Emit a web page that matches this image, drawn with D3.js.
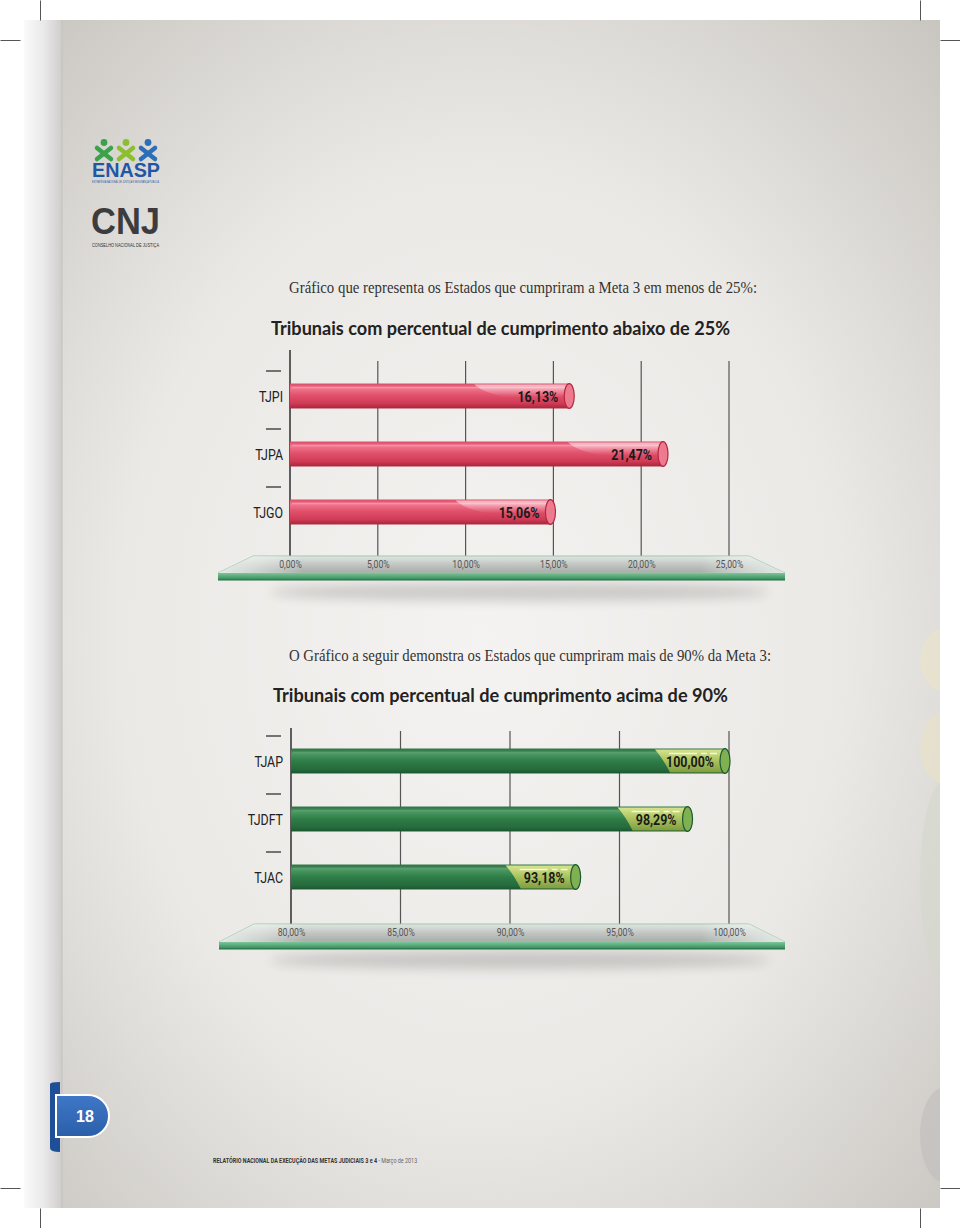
<!DOCTYPE html>
<html><head><meta charset="utf-8">
<script src="https://cdn.jsdelivr.net/npm/d3@7"></script>
<style>body{margin:0;background:#fff}svg{display:block}</style>
</head><body>
<script>
// ---- data ----
const cats1 = ["TJPI", "TJPA", "TJGO"];
const vals1 = [16.13, 21.47, 15.06];
const valLabels1 = ["16,13%", "21,47%", "15,06%"];
const ticks1 = [0, 5, 10, 15, 20, 25];
const tickLabels1 = ["0,00%", "5,00%", "10,00%", "15,00%", "20,00%", "25,00%"];

const cats2 = ["TJAP", "TJDFT", "TJAC"];
const vals2 = [100, 98.29, 93.18];
const valLabels2 = ["100,00%", "98,29%", "93,18%"];
const ticks2 = [80, 85, 90, 95, 100];
const tickLabels2 = ["80,00%", "85,00%", "90,00%", "95,00%", "100,00%"];

const intro1 = "Gráfico que representa os Estados que cumpriram a Meta 3 em menos de 25%:";
const title1 = "Tribunais com percentual de cumprimento abaixo de 25%";
const intro2 = "O Gráfico a seguir demonstra os Estados que cumpriram mais de 90% da Meta 3:";
const title2 = "Tribunais com percentual de cumprimento acima de 90%";
const pageNum = "18";
const footerBold = "RELATÓRIO NACIONAL DA EXECUÇÃO DAS METAS JUDICIAIS 3 e 4";
const footerLight = " - Março de 2013";

const W = 960, H = 1228;
const svg = d3.select("body").append("svg").attr("width", W).attr("height", H);
const defs = svg.append("defs");

function lin(id, stops, x2, y2) {
  const g = defs.append("linearGradient").attr("id", id)
    .attr("x1", 0).attr("y1", 0).attr("x2", x2).attr("y2", y2);
  stops.forEach(s => g.append("stop").attr("offset", s[0]).attr("stop-color", s[1]).attr("stop-opacity", s[2] == null ? 1 : s[2]));
}
const rg = defs.append("radialGradient").attr("id", "pageBg").attr("cx", "50%").attr("cy", "52%").attr("r", "72%");
[[0, "#f4f3f1"], [0.55, "#ebe9e6"], [1, "#c9c6c1"]].forEach(s => rg.append("stop").attr("offset", s[0]).attr("stop-color", s[1]));
lin("spine", [[0, "#fafafa"], [0.5, "#ebeaea"], [1, "#cfcdcc"]], 1, 0);
lin("redGrad", [[0, "#d94862"], [0.18, "#f07890"], [0.45, "#e2526c"], [0.8, "#cf3a55"], [1, "#a8253c"]], 0, 1);
lin("greenGrad", [[0, "#2a7040"], [0.2, "#4a9a62"], [0.5, "#2f7d48"], [0.85, "#256a3b"], [1, "#1a5530"]], 0, 1);
lin("redShine", [[0, "#ffffff", 0.6], [0.5, "#ffffff", 0.25], [1, "#ffffff", 0]], 0, 1);
lin("greenShine", [[0, "#d6e48e"], [0.5, "#a9c25c"], [1, "#7f9d40"]], 0, 1);
lin("shelfTop", [[0, "#dfe6e1"], [0.5, "#c2c6c3"], [1, "#a7aca9"]], 0, 1);
lin("shelfSide", [[0, "#e8efe9", 0.9], [0.15, "#ffffff", 0], [0.85, "#ffffff", 0], [1, "#e6eee8", 0.9]], 1, 0);
lin("shelfFront", [[0, "#7fc49a"], [1, "#2f8a56"]], 0, 1);
lin("tabGrad", [[0, "#3f78c8"], [1, "#2a5ea8"]], 0, 1);
defs.append("filter").attr("id", "blur").attr("x", "-20%").attr("y", "-200%").attr("width", "140%").attr("height", "500%")
  .append("feGaussianBlur").attr("stdDeviation", 6);

// ---- page ----
const page = { x: 24, y: 20, w: 916, h: 1188 };
svg.append("rect").attr("x", page.x).attr("y", page.y).attr("width", page.w).attr("height", page.h).attr("fill", "url(#pageBg)");
svg.append("rect").attr("x", page.x).attr("y", page.y).attr("width", 38).attr("height", page.h).attr("fill", "url(#spine)");
svg.append("line").attr("x1", 62).attr("x2", 62).attr("y1", page.y).attr("y2", page.y + page.h).attr("stroke", "#c4c2bf").attr("stroke-width", 1);

// right edge decorations
const clip = defs.append("clipPath").attr("id", "rclip");
clip.append("rect").attr("x", 920).attr("y", page.y).attr("width", 20).attr("height", page.h);
const dg = svg.append("g").attr("clip-path", "url(#rclip)");
[[660, 32, "#ebe5c8"], [748, 36, "#e8e2c4"], [880, 100, "#d3d7cc"], [1135, 48, "#bfbdbd"]].forEach(d => {
  dg.append("ellipse").attr("cx", 945).attr("cy", d[0]).attr("rx", 25).attr("ry", d[1]).attr("fill", d[2]).attr("opacity", 0.6);
});

// crop marks
const cm = svg.append("g").attr("stroke", "#555").attr("stroke-width", 1);
[[40, 0, 40, 20], [920, 0, 920, 20], [0, 40, 20, 40], [940, 40, 960, 40],
 [40, 1208, 40, 1228], [920, 1208, 920, 1228], [0, 1188, 20, 1188], [940, 1188, 960, 1188]].forEach(l =>
  cm.append("line").attr("x1", l[0] + 0.5).attr("y1", l[1] + 0.5).attr("x2", l[2] + 0.5).attr("y2", l[3] + 0.5));

// ---- logos ----
const logo = svg.append("g");
[["#3aa24a", 104], ["#8cbf2f", 126], ["#2a6fb8", 148]].forEach(f => {
  const g = logo.append("g").attr("stroke", f[0]).attr("stroke-width", 4.5).attr("stroke-linecap", "round").attr("fill", "none");
  g.append("line").attr("x1", f[1] - 7).attr("y1", 148).attr("x2", f[1] + 7).attr("y2", 159);
  g.append("line").attr("x1", f[1] + 7).attr("y1", 148).attr("x2", f[1] - 7).attr("y2", 159);
  logo.append("circle").attr("cx", f[1]).attr("cy", 142.5).attr("r", 3.4).attr("fill", f[0]);
});
logo.append("text").attr("x", 92).attr("y", 177).attr("font-family", "Liberation Sans, Arial, sans-serif")
  .attr("font-weight", 700).attr("font-size", 21).attr("fill", "#1f57a6").attr("textLength", 68).attr("lengthAdjust", "spacingAndGlyphs").text("ENASP");
logo.append("text").attr("x", 92).attr("y", 183).attr("font-family", "Liberation Sans, Arial, sans-serif")
  .attr("font-size", 3.5).attr("fill", "#1f57a6").attr("textLength", 67).attr("lengthAdjust", "spacingAndGlyphs").text("ESTRATÉGIA NACIONAL DE JUSTIÇA E SEGURANÇA PÚBLICA");
logo.append("text").attr("x", 91).attr("y", 234).attr("font-family", "Liberation Sans, Arial, sans-serif")
  .attr("font-weight", 700).attr("font-size", 36).attr("fill", "#3c3c3e").attr("textLength", 69).attr("lengthAdjust", "spacingAndGlyphs").text("CNJ");
logo.append("text").attr("x", 92).attr("y", 247).attr("font-family", "Liberation Sans, Arial, sans-serif")
  .attr("font-size", 4.6).attr("fill", "#333").attr("textLength", 67).attr("lengthAdjust", "spacingAndGlyphs").text("CONSELHO NACIONAL DE JUSTIÇA");

// ---- texts ----
function serifText(t, x, y, w) {
  svg.append("text").attr("x", x).attr("y", y).attr("font-family", "Liberation Serif, DejaVu Serif, serif")
    .attr("font-size", 16.5).attr("fill", "#333").attr("textLength", w).attr("lengthAdjust", "spacingAndGlyphs").text(t);
}
function boldTitle(t, x, y, w) {
  svg.append("text").attr("x", x).attr("y", y).attr("font-family", "Lato, Open Sans, sans-serif")
    .attr("font-weight", 700).attr("font-size", 18).attr("fill", "#222").attr("textLength", w).attr("lengthAdjust", "spacingAndGlyphs").text(t);
}
serifText(intro1, 289, 293, 468);
boldTitle(title1, 271, 335, 459);
serifText(intro2, 289, 661, 482);
boldTitle(title2, 273, 702, 455);

const cond = "Roboto, Liberation Sans, sans-serif";

// ---- chart drawing ----
function drawChart(o) {
  const g = svg.append("g");
  const x = o.x, y = o.y;
  const x0 = x.range()[0], x1 = x.range()[1];
  const shelfTop = o.shelfY;

  g.append("ellipse").attr("cx", (x0 + x1) / 2 + 10).attr("cy", shelfTop + 36).attr("rx", 250).attr("ry", 9)
    .attr("fill", "#000").attr("opacity", 0.16).attr("filter", "url(#blur)");

  g.selectAll(".grid").data(o.ticks.slice(1)).join("line")
    .attr("x1", d => x(d)).attr("x2", d => x(d))
    .attr("y1", o.gridTop).attr("y2", shelfTop)
    .attr("stroke", "#555").attr("stroke-width", 1.2);
  g.append("line").attr("x1", x0).attr("x2", x0).attr("y1", o.axisTop).attr("y2", shelfTop)
    .attr("stroke", "#222").attr("stroke-width", 1.4);

  const step = y.step(), bw = y.bandwidth();
  g.selectAll(".dash").data(o.cats).join("line")
    .attr("x1", 266).attr("x2", 281)
    .attr("y1", d => y(d) - (step - bw) / 2 + 4).attr("y2", d => y(d) - (step - bw) / 2 + 4)
    .attr("stroke", "#222").attr("stroke-width", 1.2);
  g.selectAll(".cat").data(o.cats).join("text")
    .attr("transform", d => `translate(283,${y(d) + bw / 2 + 5.5}) scale(0.8,1)`)
    .attr("text-anchor", "end").attr("font-family", cond).attr("font-size", 15.5).attr("fill", "#222")
    .text(d => d);

  const data = o.cats.map((c, i) => ({ c, v: o.vals[i], lab: o.labels[i] }));
  const bars = g.selectAll(".bar").data(data).join("g");
  bars.append("rect")
    .attr("x", x0).attr("y", d => y(d.c))
    .attr("width", d => x(d.v) - x0 - 4).attr("height", bw)
    .attr("fill", o.red ? "url(#redGrad)" : "url(#greenGrad)");
  bars.append("line")
    .attr("x1", x0 + 2).attr("x2", d => x(d.v) - 8)
    .attr("y1", d => y(d.c) + 4).attr("y2", d => y(d.c) + 4)
    .attr("stroke", "#fff").attr("stroke-opacity", o.red ? 0.25 : 0.12).attr("stroke-width", 1.5);
  bars.append("path")
    .attr("d", d => {
      const e = x(d.v) - 4, t = y(d.c), b = t + bw;
      if (o.red) {
        return `M${e - 95},${t + 1} L${e},${t + 1} L${e},${t + bw * 0.55} L${e - 62},${t + bw * 0.55} Q${e - 85},${t + bw * 0.4} ${e - 95},${t + 1}Z`;
      }
      return `M${e - 70},${t + 1} L${e},${t + 1} L${e},${b - 1} L${e - 55},${b - 1} Q${e - 62},${t + bw * 0.4} ${e - 70},${t + 1}Z`;
    })
    .attr("fill", o.red ? "url(#redShine)" : "url(#greenShine)");
  if (!o.red) {
    bars.append("line")
      .attr("x1", d => x(d.v) - 60).attr("x2", d => x(d.v) - 12)
      .attr("y1", d => y(d.c) + 5).attr("y2", d => y(d.c) + 5)
      .attr("stroke", "#f4f8e0").attr("stroke-width", 1.4).attr("stroke-dasharray", "28 4 6 3");
  }
  bars.append("ellipse")
    .attr("cx", d => x(d.v) - 4).attr("cy", d => y(d.c) + bw / 2)
    .attr("rx", 5).attr("ry", bw / 2)
    .attr("fill", o.red ? "#ee7a8f" : "#7fb052")
    .attr("stroke", o.red ? "#b3283f" : "#1d5a30").attr("stroke-width", 1.2);
  bars.append("text")
    .attr("transform", d => `translate(${x(d.v) - 15},${y(d.c) + bw / 2 + 6}) scale(0.83,1)`)
    .attr("text-anchor", "end").attr("font-family", cond).attr("font-weight", 700)
    .attr("font-size", 15).attr("fill", "#1a1a1a").text(d => d.lab);

  const sx0 = x0 - 72, sx1 = x1 + 56, tx0 = x0 - 37, tx1 = x1 + 20;
  const depth = o.shelfDepth;
  const top = `M${tx0},${shelfTop} L${tx1},${shelfTop} L${sx1},${shelfTop + depth} L${sx0},${shelfTop + depth}Z`;
  g.append("path").attr("d", top).attr("fill", "url(#shelfTop)").attr("stroke", "#9fc7ad").attr("stroke-width", 1);
  g.append("path").attr("d", top).attr("fill", "url(#shelfSide)");
  g.append("rect").attr("x", sx0).attr("y", shelfTop + depth).attr("width", sx1 - sx0).attr("height", 7)
    .attr("fill", "url(#shelfFront)");
  g.append("line").attr("x1", sx0).attr("x2", sx1).attr("y1", shelfTop + depth + 7).attr("y2", shelfTop + depth + 7)
    .attr("stroke", "#256e44").attr("stroke-width", 1.2);

  const ax = g.append("g").attr("transform", `translate(0,${shelfTop + 4})`)
    .call(d3.axisBottom(x).tickValues(o.ticks).tickSize(0).tickPadding(0).tickFormat((d, i) => o.tickLabels[i]));
  ax.select(".domain").remove();
  ax.selectAll(".tick text").attr("y", 0).attr("dy", "0.75em")
    .attr("transform", "scale(0.87,1)")
    .attr("font-family", cond).attr("font-size", 10).attr("fill", "#555");
}

drawChart({
  x: d3.scaleLinear().domain([ticks1[0], ticks1[ticks1.length - 1]]).range([290, 729]),
  y: d3.scaleBand().domain(cats1).range([367, 541]).paddingInner(0.57).paddingOuter(0.285),
  cats: cats1, vals: vals1, labels: valLabels1, ticks: ticks1, tickLabels: tickLabels1,
  red: true, axisTop: 350, gridTop: 361, shelfY: 556, shelfDepth: 17
});
drawChart({
  x: d3.scaleLinear().domain([ticks2[0], ticks2[ticks2.length - 1]]).range([291, 729]),
  y: d3.scaleBand().domain(cats2).range([732, 906]).paddingInner(0.57).paddingOuter(0.285),
  cats: cats2, vals: vals2, labels: valLabels2, ticks: ticks2, tickLabels: tickLabels2,
  red: false, axisTop: 728, gridTop: 731, shelfY: 924, shelfDepth: 18
});

// ---- page tab ----
const tab = svg.append("g");
tab.append("path").attr("d", "M50,1084 Q50,1082 60,1082 L60,1152 Q50,1152 50,1148Z").attr("fill", "#1f4f96");
tab.append("path").attr("d", "M56,1095 L88,1095 A21,21 0 0 1 88,1137 L56,1137Z")
  .attr("fill", "url(#tabGrad)").attr("stroke", "#fff").attr("stroke-width", 2);
tab.append("text").attr("x", 85).attr("y", 1122).attr("text-anchor", "middle")
  .attr("font-family", "Liberation Sans, Arial, sans-serif").attr("font-weight", 700).attr("font-size", 16).attr("fill", "#fff").text(pageNum);

// ---- footer ----
const ft = svg.append("text").attr("transform", "translate(213,1163) scale(0.72,1)")
  .attr("font-family", cond).attr("font-size", 7.5).attr("fill", "#333");
ft.append("tspan").attr("font-weight", 700).text(footerBold);
ft.append("tspan").attr("fill", "#666").text(footerLight);
</script>
</body></html>
